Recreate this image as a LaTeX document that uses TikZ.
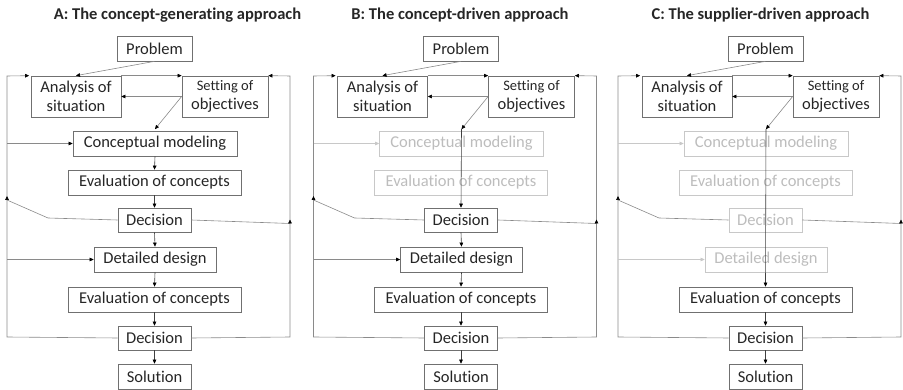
\documentclass[tikz,border=0pt]{standalone}
\usepackage{fontspec}
\setmainfont{Carlito}[RawFeature={-liga;-clig;-calt;-dlig}]
\usetikzlibrary{arrows.meta}
\definecolor{boxline}{HTML}{707070}
\definecolor{txt}{HTML}{262626}
\definecolor{fade}{HTML}{C8C8C8}
\definecolor{fadetxt}{HTML}{BDBDBD}
\definecolor{conn}{HTML}{8A8A8A}
\definecolor{flow}{HTML}{404040}
\tikzset{
 box/.style={draw=boxline, line width=0.7pt, text=txt, inner sep=0pt, minimum height=25pt, align=center, font=\fontsize{16.5}{19.5}\selectfont, fill=white},
 fadebox/.style={box, draw=fade, text=fadetxt},
 arr/.style={-{Triangle[length=4pt,width=3.6pt,color=black]}},
 farr/.style={-{Triangle[length=4pt,width=3.6pt,color=fade]}},
 cline/.style={draw=conn, line width=0.6pt},
 fline/.style={draw=fade, line width=0.6pt},
 flowline/.style={draw=flow, line width=0.6pt, arr},
 ttl/.style={font=\bfseries\fontsize{16.5}{19}\selectfont, text=txt},
}
\newcommand\mypanel[9]{%
\begin{scope}[xshift=#1pt, name prefix=#2-]
\node[box,minimum width=75pt] (prob) at (154.5,48.5) {Problem};
\node[box,minimum width=90pt,minimum height=41pt] (anal) at (76,96.5) {Analysis of\\situation};
\node[box,minimum width=86pt,minimum height=41pt] (set) at (225,96.5) {{\fontsize{14.5}{15}\selectfont Setting of}\\objectives};
\node[#3,minimum width=164pt] (conc) at (155,143.5) {Conceptual modeling};
\node[#5,minimum width=173pt] (ev1) at (154.5,182.5) {Evaluation of concepts};
\node[#6,minimum width=73pt,minimum height=24pt] (dec1) at (154.5,220) {Decision};
\node[#7,minimum width=122pt] (det) at (155,259.5) {Detailed design};
\node[box,minimum width=173pt] (ev2) at (154.5,299.5) {Evaluation of concepts};
\node[box,minimum width=73pt,minimum height=24pt] (dec2) at (154.5,338) {Decision};
\node[box,minimum width=73pt] (sol) at (154.5,376.5) {Solution};
\coordinate (j) at ([yshift=1.5pt]conc.north);
\coordinate (Lb) at (7,337);
\coordinate (Lt) at (7,76);
\coordinate (Rb) at (290,337);
\coordinate (Rt) at (290,76);
\coordinate (Lk) at (48,218);
\coordinate (Ld) at (7,200);
\coordinate (Lu) at (7,196);
\coordinate (Rd) at (290,223.5);
\coordinate (Ru) at (290,219.5);
\coordinate (Lc) at (7,143.5);
\coordinate (Ldd) at (7,259.5);
% connectors
\draw[cline,arr] (prob.south) -- (anal.north);
\draw[cline,arr] (set.west) -- (anal.east);
\draw[cline,arr] (set.west) -- (j);
\draw[cline,arr,shorten >=1.5pt] (dec2.west) -- (Lb) -- (Lt) -- (anal.north west);
\draw[cline,arr] (anal.north east) -- (set.north west);
\draw[cline,arr] (dec2.east) -- (Rb) -- (Rt) -- (set.north east);
\draw[cline,arr] (dec1.west) -- (Lk) -- (Ld) -- (Lu);
\draw[cline,arr] (dec1.east) -- (Rd) -- (Ru);
\draw[#4] (Lc) -- (conc.west);
\draw[#8] (Ldd) -- (det.west);
#9
\end{scope}}
\begin{document}
\begin{tikzpicture}[x=1pt,y=-1pt]
\useasboundingbox (0,0) rectangle (903,390);
\node[ttl] (tA) at (177.5,15.5) {A: The concept-generating approach};
\node[ttl] (tB) at (460,15.5) {B: The concept-driven approach};
\node[ttl] (tC) at (760.5,15.5) {C: The supplier-driven approach};
\mypanel{0}{A}{box}{cline,arr}{box}{box}{box}{cline,arr}{%
\draw[flowline] (conc.south) -- (ev1.north);
\draw[flowline] (ev1.south) -- (dec1.north);
\draw[flowline] (dec1.south) -- (det.north);
\draw[flowline] (det.south) -- (ev2.north);
\draw[flowline] (ev2.south) -- (dec2.north);
\draw[flowline] (dec2.south) -- (sol.north);}
\mypanel{306.5}{B}{fadebox}{fline,farr}{fadebox}{box}{box}{cline,arr}{%
\draw[flowline] (j) -- (dec1.north);
\draw[flowline] (dec1.south) -- (det.north);
\draw[flowline] (det.south) -- (ev2.north);
\draw[flowline] (ev2.south) -- (dec2.north);
\draw[flowline] (dec2.south) -- (sol.north);}
\mypanel{611}{C}{fadebox}{fline,farr}{fadebox}{fadebox}{fadebox}{fline,farr}{%
\draw[flowline] (j) -- (ev2.north);
\draw[flowline] (ev2.south) -- (dec2.north);
\draw[flowline] (dec2.south) -- (sol.north);}
\end{tikzpicture}
\end{document}
